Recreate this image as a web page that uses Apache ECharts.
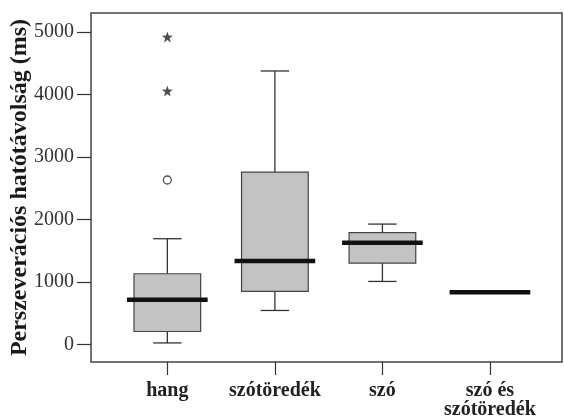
<!DOCTYPE html>
<html>
<head>
<meta charset="utf-8">
<script src="https://cdn.jsdelivr.net/npm/echarts@6/dist/echarts.min.js"></script>
<style>
html,body{margin:0;padding:0;background:#fff;}
#chart{width:564px;height:417px;}
</style>
</head>
<body>
<div id="chart"></div>
<script>
const categories = ['hang', 'szótöredék', 'szó', 'szó és\nszótöredék'];
const lowerWhisker = [25, 544, 1008, 837];
const q1 = [208, 848, 1301, 837];
const median = [715, 1333, 1627, 837];
const q3 = [1131, 2757, 1787, 837];
const upperWhisker = [1691, 4373, 1925, 837];
const outlierCircles = [[0, 2630]];
const outlierStars = [[0, 4053], [0, 4917]];
const yTicks = [0, 1000, 2000, 3000, 4000, 5000];
const xTicks = [0, 1, 2, 3];

const boxData = categories.map((c, i) => [i, lowerWhisker[i], q1[i], median[i], q3[i], upperWhisker[i]]);
const starPath = 'path://M50 0 L61.76 33.82 L97.55 34.55 L69.02 56.18 L79.39 90.45 L50 70 L20.61 90.45 L30.98 56.18 L2.45 34.55 L38.24 33.82 Z';

const chart = echarts.init(document.getElementById('chart'));
const serif = '"Liberation Serif", "DejaVu Serif", serif';

function renderBox(params, api) {
  const x = api.value(0);
  const lo = api.coord([x, api.value(1)]);
  const b1 = api.coord([x, api.value(2)]);
  const md = api.coord([x, api.value(3)]);
  const b3 = api.coord([x, api.value(4)]);
  const hi = api.coord([x, api.value(5)]);
  const unit = api.size([1, 0])[0];
  const boxHalf = 0.31 * unit;
  const medHalf = 0.375 * unit;
  const capHalf = 0.132 * unit;
  const cx = md[0];
  const children = [];
  const lineStyle = {stroke: '#333', lineWidth: 1.3};
  const hasBox = Math.abs(b1[1] - b3[1]) > 0.5;
  if (hasBox) {
    children.push({type: 'line', shape: {x1: cx, y1: hi[1], x2: cx, y2: b3[1]}, style: lineStyle});
    children.push({type: 'line', shape: {x1: cx, y1: lo[1], x2: cx, y2: b1[1]}, style: lineStyle});
    children.push({type: 'line', shape: {x1: cx - capHalf, y1: hi[1], x2: cx + capHalf, y2: hi[1]}, style: lineStyle});
    children.push({type: 'line', shape: {x1: cx - capHalf, y1: lo[1], x2: cx + capHalf, y2: lo[1]}, style: lineStyle});
    children.push({type: 'rect', shape: {x: cx - boxHalf, y: b3[1], width: 2 * boxHalf, height: b1[1] - b3[1]},
      style: {fill: '#c3c3c3', stroke: '#444', lineWidth: 1.2}});
  }
  children.push({type: 'line', shape: {x1: cx - medHalf, y1: md[1], x2: cx + medHalf, y2: md[1]},
    style: {stroke: '#111', lineWidth: 4.5}});
  return {type: 'group', children: children};
}

chart.setOption({
  animation: false,
  backgroundColor: '#fff',
  grid: {left: 91, right: 2, top: 13, bottom: 55, show: true, borderColor: '#444', borderWidth: 1.5,
    backgroundColor: 'transparent', containLabel: false, outerBoundsMode: 'none'},
  xAxis: {
    type: 'value', min: -0.71, max: 3.67,
    axisLine: {show: false, onZero: false},
    splitLine: {show: false},
    axisTick: {show: true, inside: false, length: 13, customValues: xTicks, lineStyle: {color: '#333', width: 1.2}},
    axisLabel: {
      customValues: xTicks, margin: 19,
      formatter: v => categories[v],
      color: '#222', fontFamily: serif, fontWeight: 'bold', fontSize: 20, lineHeight: 19
    }
  },
  yAxis: {
    type: 'value', min: -280, max: 5300,
    name: 'Perszeverációs hatótávolság (ms)',
    nameLocation: 'middle', nameGap: 59, nameMoveOverlap: false,
    nameTextStyle: {color: '#1a1a1a', fontFamily: serif, fontWeight: 'bold', fontSize: 24},
    axisLine: {show: false, onZero: false},
    splitLine: {show: false},
    axisTick: {show: true, inside: false, length: 14, customValues: yTicks, lineStyle: {color: '#333', width: 1.2}},
    axisLabel: {customValues: yTicks, margin: 17, color: '#333', fontFamily: serif, fontSize: 20,
      formatter: v => String(v)}
  },
  series: [
    {type: 'custom', renderItem: renderBox, data: boxData, encode: {x: 0, y: [1, 2, 3, 4, 5]}, clip: false},
    {type: 'scatter', data: outlierCircles, symbol: 'circle', symbolSize: 8,
      itemStyle: {color: 'transparent', borderColor: '#222', borderWidth: 1.3}},
    {type: 'scatter', data: outlierStars, symbol: starPath, symbolSize: 11,
      itemStyle: {color: '#222'}}
  ]
});
</script>
</body>
</html>
